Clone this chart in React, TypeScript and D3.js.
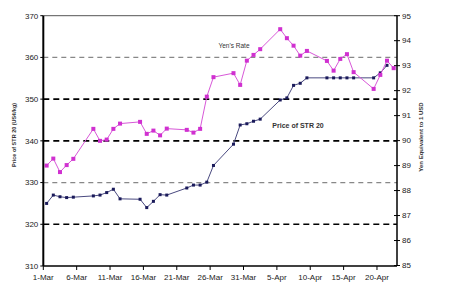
import React from "react";
import * as d3 from "d3";

const W = 450;
const H = 300;

const yenDates = ["2010-03-01","2010-03-02","2010-03-03","2010-03-04","2010-03-05","2010-03-08","2010-03-09","2010-03-10","2010-03-11","2010-03-12","2010-03-15","2010-03-16","2010-03-17","2010-03-18","2010-03-19","2010-03-22","2010-03-23","2010-03-24","2010-03-25","2010-03-26","2010-03-29","2010-03-30","2010-03-31","2010-04-01","2010-04-02","2010-04-05","2010-04-06","2010-04-07","2010-04-08","2010-04-09","2010-04-12","2010-04-13","2010-04-14","2010-04-15","2010-04-16","2010-04-19","2010-04-20","2010-04-21","2010-04-22"];
const yenValues = [89.0,89.28,88.74,89.02,89.27,90.47,89.99,90.04,90.47,90.68,90.75,90.27,90.4,90.21,90.48,90.43,90.32,90.47,91.76,92.54,92.7,92.23,93.2,93.43,93.66,94.46,94.1,93.8,93.4,93.59,93.19,92.8,93.27,93.46,92.74,92.07,92.63,93.2,92.9];

const strDates = ["2010-03-01","2010-03-02","2010-03-03","2010-03-04","2010-03-05","2010-03-08","2010-03-09","2010-03-10","2010-03-11","2010-03-12","2010-03-15","2010-03-16","2010-03-17","2010-03-18","2010-03-19","2010-03-22","2010-03-23","2010-03-24","2010-03-25","2010-03-26","2010-03-29","2010-03-30","2010-03-31","2010-04-01","2010-04-02","2010-04-05","2010-04-06","2010-04-07","2010-04-08","2010-04-09","2010-04-12","2010-04-13","2010-04-14","2010-04-15","2010-04-16","2010-04-19","2010-04-20","2010-04-21"];
const strValues = [325.0,327.0,326.6,326.4,326.5,326.8,327.0,327.6,328.4,326.1,326.0,324.0,325.5,327.1,327.0,328.7,329.4,329.4,330.1,334.1,339.2,343.8,344.1,344.7,345.2,349.8,350.3,353.3,353.8,355.1,355.1,355.1,355.1,355.1,355.1,355.1,356.3,358.1];

const xTickLabels = ["1-Mar","6-Mar","11-Mar","16-Mar","21-Mar","26-Mar","31-Mar","5-Apr","10-Apr","15-Apr","20-Apr"];
const leftTicks = [310,320,330,340,350,360,370];
const rightTicks = [85,86,87,88,89,90,91,92,93,94,95];
const gridBlack = [320,340,350];
const gridGrey = [330,360];

const start = new Date(2010, 2, 1);
const parse = d3.timeParse("%Y-%m-%d");
const dayOf = (s: string) => d3.timeDay.count(start, parse(s) as Date);

const x = d3.scaleLinear().domain([0, 53]).range([43.3, 397]);
const yL = d3.scaleLinear().domain([310, 370]).range([266, 15.7]);
const yR = d3.scaleLinear().domain([85, 95]).range([265.5, 15.7]);

const font = "Arial, 'Liberation Sans', sans-serif";

export default function App() {
  const yenPts: [number, number][] = yenDates.map((d, i) => [x(dayOf(d) + 0.5), yR(yenValues[i])]);
  const strPts: [number, number][] = strDates.map((d, i) => [x(dayOf(d) + 0.5), yL(strValues[i])]);
  const line = d3.line();
  const [x0, x1] = x.range();
  return (
    <svg width={W} height={H} style={{ position: "absolute", left: 0, top: 0, background: "#fff" }} fontFamily={font}>
      <rect x={0} y={0} width={W} height={H} fill="#fff" />
      {/* top border */}
      <line x1={x0} x2={x1} y1={yL(370)} y2={yL(370)} stroke="#555" strokeWidth={1} />
      {gridGrey.map(v => (
        <line key={"g" + v} x1={x0} x2={x1} y1={yL(v)} y2={yL(v)} stroke="#888" strokeWidth={1.2} strokeDasharray="5,4" />
      ))}
      {gridBlack.map(v => (
        <line key={"b" + v} x1={x0} x2={x1} y1={yL(v)} y2={yL(v)} stroke="#000" strokeWidth={1.6} strokeDasharray="6,4" />
      ))}
      {/* series */}
      <path d={line(strPts) || ""} fill="none" stroke="#4a4a80" strokeWidth={1} />
      {strPts.map((p, i) => (
        <rect key={"s" + i} x={p[0] - 1.5} y={p[1] - 1.5} width={3} height={3} fill="#1a1a5a" />
      ))}
      <path d={line(yenPts) || ""} fill="none" stroke="#d858d8" strokeWidth={1} />
      {yenPts.map((p, i) => (
        <rect key={"y" + i} x={p[0] - 2} y={p[1] - 2} width={4} height={4} fill="#d030d0" />
      ))}
      {/* axes */}
      <line x1={x0} x2={x0} y1={yL(370)} y2={yL(310)} stroke="#000" strokeWidth={2} />
      <line x1={x1} x2={x1} y1={yR(95)} y2={yR(85)} stroke="#000" strokeWidth={1.5} />
      <line x1={x0} x2={x1} y1={yL(310)} y2={yL(310)} stroke="#000" strokeWidth={1.5} />
      {leftTicks.map(v => (
        <g key={"lt" + v}>
          <line x1={x0 - 3} x2={x0} y1={yL(v)} y2={yL(v)} stroke="#000" strokeWidth={1} />
          <text x={x0 - 5} y={yL(v)} dy="0.35em" textAnchor="end" fontSize={8} fill="#222">{v}</text>
        </g>
      ))}
      {rightTicks.map(v => (
        <g key={"rt" + v}>
          <line x1={x1 - 3} x2={x1 + 3} y1={yR(v)} y2={yR(v)} stroke="#000" strokeWidth={1} />
          <text x={x1 + 5} y={yR(v)} dy="0.35em" textAnchor="start" fontSize={8} fill="#222">{v}</text>
        </g>
      ))}
      {xTickLabels.map((t, i) => (
        <g key={"xt" + i}>
          <line x1={x(i * 5)} x2={x(i * 5)} y1={yL(310)} y2={yL(310) + 4} stroke="#000" strokeWidth={1} />
          <text x={x(i * 5)} y={yL(310) + 14} textAnchor="middle" fontSize={8} fill="#222">{t}</text>
        </g>
      ))}
      {/* annotations */}
      <text x={234} y={48} textAnchor="middle" fontSize={6.5} fill="#333">Yen's Rate</text>
      <text x={298} y={128} textAnchor="middle" fontSize={7} fontWeight="bold" fill="#333">Price of STR 20</text>
      <text transform={`translate(16,135) rotate(-90)`} textAnchor="middle" fontSize={5.5} fontWeight="bold" fill="#333">Price of STR 20 (US¢/kg)</text>
      <text transform={`translate(423,137) rotate(-90)`} textAnchor="middle" fontSize={6} fontWeight="bold" fill="#333">Yen Equivalent to 1 USD</text>
    </svg>
  );
}
